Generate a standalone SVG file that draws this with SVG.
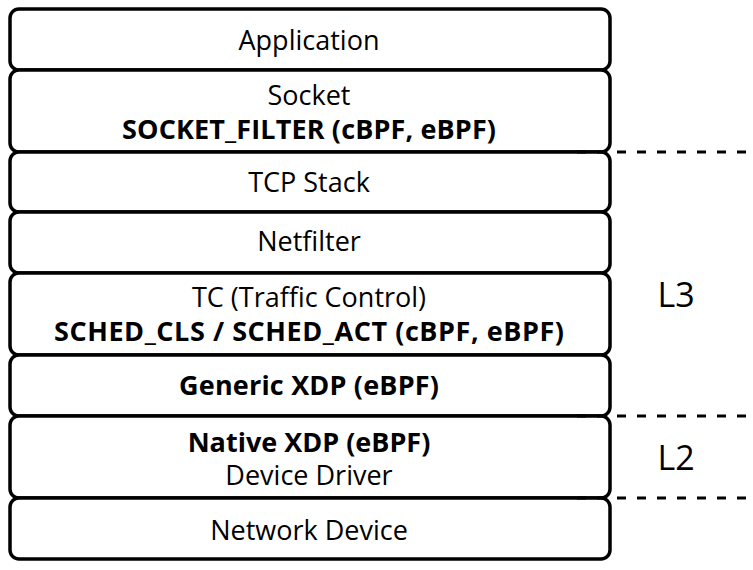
<svg xmlns="http://www.w3.org/2000/svg" width="753" height="570" viewBox="0 0 753 570">
<style>
.box{fill:#fff;stroke:#000;stroke-width:3.5}
.t{font-family:"Open Sans","Noto Sans",sans-serif;font-size:27px;fill:#000;text-anchor:middle}
.b{font-weight:bold}
.lvl{font-family:"Open Sans","Noto Sans",sans-serif;font-size:34px;fill:#000;text-anchor:middle}
.dash{stroke:#000;stroke-width:3;stroke-dasharray:9 11;fill:none}
</style>
<rect width="753" height="570" fill="#fff"/>
<g id="application"><rect class="box" x="10" y="9" width="600" height="61" rx="9"/><text class="t" x="309" y="50">Application</text></g>
<g id="socket"><rect class="box" x="10" y="70" width="600" height="82" rx="9"/><text class="t" x="309" y="105">Socket</text><text class="t b" x="309" y="139" textLength="374" lengthAdjust="spacing">SOCKET_FILTER (cBPF, eBPF)</text></g>
<g id="tcp"><rect class="box" x="10" y="152" width="600" height="60" rx="9"/><text class="t" x="309" y="192">TCP Stack</text></g>
<g id="netfilter"><rect class="box" x="10" y="212" width="600" height="61" rx="9"/><text class="t" x="309" y="251">Netfilter</text></g>
<g id="tc"><rect class="box" x="10" y="273" width="600" height="82" rx="9"/><text class="t" x="309" y="307">TC (Traffic Control)</text><text class="t b" x="309" y="341" textLength="510" lengthAdjust="spacing">SCHED_CLS / SCHED_ACT (cBPF, eBPF)</text></g>
<g id="generic-xdp"><rect class="box" x="10" y="355" width="600" height="61" rx="9"/><text class="t b" x="309" y="395" textLength="260" lengthAdjust="spacing">Generic XDP (eBPF)</text></g>
<g id="native-xdp"><rect class="box" x="10" y="416" width="600" height="82" rx="9"/><text class="t b" x="309" y="452">Native XDP (eBPF)</text><text class="t" x="309" y="485">Device Driver</text></g>
<g id="network-device"><rect class="box" x="10" y="498" width="600" height="61" rx="9"/><text class="t" x="309" y="540">Network Device</text></g>
<g id="connectors">
<line class="dash" x1="577" y1="152" x2="746" y2="152"/>
<line class="dash" x1="577" y1="416" x2="746" y2="416"/>
<line class="dash" x1="577" y1="498" x2="746" y2="498"/>
</g>
<g id="levels"><text class="lvl" x="676" y="307">L3</text><text class="lvl" x="676" y="470">L2</text></g>
</svg>
